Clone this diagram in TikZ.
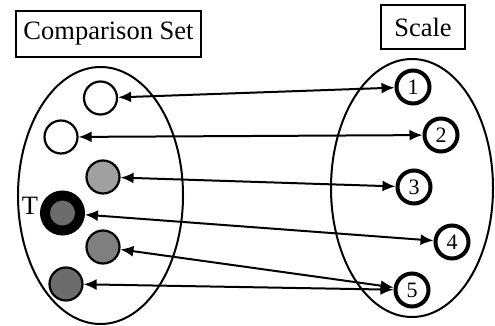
\documentclass[tikz,border=0pt]{standalone}
\usepackage{fontspec}
\setmainfont{Liberation Serif}
\usetikzlibrary{shapes.geometric, arrows.meta, positioning}
\definecolor{itemLight}{RGB}{160,160,160}
\definecolor{itemMid}{RGB}{128,128,128}
\definecolor{itemDark}{RGB}{108,108,108}

\begin{document}
\begin{tikzpicture}[
        x=1pt, y=-1pt,
        title/.style={rectangle, draw, line width=1.6pt, inner sep=0pt, font=\fontsize{26.5}{30}\selectfont},
        group/.style={ellipse, draw, line width=2pt, inner sep=0pt},
        item/.style={circle, draw, line width=2.2pt, minimum size=33pt, inner sep=0pt},
        grade/.style={circle, draw, line width=4pt, minimum size=33pt, inner sep=0pt, font=\fontsize{22}{24}\selectfont},
        arrow/.style={{Latex[length=13pt,width=11pt]}-{Latex[length=13pt,width=11pt]}, line width=2pt}
    ]
        \useasboundingbox (0,0) rectangle (495,326);

        % Headings
        \node[title, minimum width=185pt, minimum height=46pt] (cmpTitle) at (108.5,34) {Comparison Set};
        \node[title, minimum width=84pt, minimum height=44pt] (scaleTitle) at (423,27) {Scale};

        % The two sets
        \node[group, minimum width=165pt, minimum height=257pt] (cmpSet) at (100.5,195.5) {};
        \node[group, minimum width=162pt, minimum height=258pt] (scaleSet) at (412,188) {};

        % Comparison items
        \node[item, fill=white] (c1) at (100.5,98) {};
        \node[item, fill=white] (c2) at (61,137) {};
        \node[item, fill=itemLight] (c3) at (103,177) {};
        \node[circle, draw, line width=10pt, minimum size=35pt, inner sep=0pt, fill=itemDark] (tgt) at (62.5,213) {};
        \node[item, fill=itemMid] (c5) at (103,247) {};
        \node[item, fill=itemDark] (c6) at (66,284) {};
        \node[font=\fontsize{26.5}{30}\selectfont] (tLabel) at (30,206) {T};

        % Scale points
        \node[grade] (s1) at (413,87) {1};
        \node[grade] (s2) at (441,135) {2};
        \node[grade] (s3) at (414,187) {3};
        \node[grade] (s4) at (452,242) {4};
        \node[grade] (s5) at (412,290) {5};

        % Mapping
        \draw[arrow] (c1) -- (s1);
        \draw[arrow] (c2) -- (s2);
        \draw[arrow] (c3) -- (s3);
        \draw[arrow] (tgt) -- (s4);
        \draw[arrow] (c5) -- (s5);
        \draw[arrow] (c6) -- (s5);
    \end{tikzpicture}
\end{document}
